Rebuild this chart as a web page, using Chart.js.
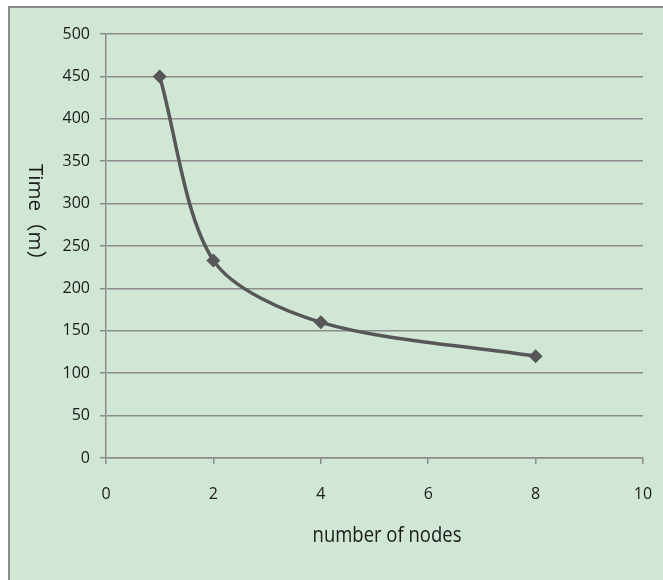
<!DOCTYPE html>
<html>
<head>
<meta charset="utf-8">
<script src="https://cdn.jsdelivr.net/npm/chart.js@4"></script>
<style>
html,body{margin:0;padding:0;background:#fff;}
#wrap{width:663px;height:580px;position:relative;}
</style>
</head>
<body>
<div id="wrap"><canvas id="c" width="663" height="580"></canvas></div>
<script>
const nodeCounts = [1, 2, 4, 8];
const timeMinutes = [450, 233, 160, 120];
const xTitle = 'number of nodes';
const yTitle = 'Time（m）';
const xRange = {min: 0, max: 10, step: 2};
const yRange = {min: 0, max: 500, step: 50};

const FONT = "'Open Sans', 'Noto Sans CJK SC', sans-serif";
const BG = '#cfe7d4';

const decor = {
  id: 'decor',
  beforeDraw(chart) {
    const ctx = chart.ctx;
    ctx.save();
    ctx.fillStyle = '#ffffff';
    ctx.fillRect(0, 0, chart.width, chart.height);
    ctx.fillStyle = BG;
    ctx.fillRect(10, 8, chart.width - 10, chart.height - 8);
    ctx.strokeStyle = '#8a8a8a';
    ctx.lineWidth = 2;
    ctx.beginPath();
    ctx.moveTo(9, chart.height);
    ctx.lineTo(9, 7);
    ctx.lineTo(chart.width, 7);
    ctx.stroke();
    ctx.restore();
  },
  afterDraw(chart) {
    const ctx = chart.ctx;
    ctx.save();
    ctx.fillStyle = '#1a1a1a';
    ctx.textBaseline = 'middle';
    // x title
    ctx.save();
    ctx.font = "21px " + FONT;
    ctx.textAlign = 'center';
    ctx.translate(387, 536);
    ctx.scale(0.88, 1);
    ctx.fillText(xTitle, 0, 0);
    ctx.restore();
    // y title, reading top to bottom
    ctx.save();
    ctx.font = "20.5px " + FONT;
    ctx.textAlign = 'left';
    ctx.translate(35, 164);
    ctx.rotate(Math.PI / 2);
    ctx.fillText(yTitle, 0, 0);
    ctx.restore();
    ctx.restore();
  }
};

new Chart(document.getElementById('c'), {
  type: 'line',
  data: {
    datasets: [{
      data: nodeCounts.map((x, i) => ({x: x, y: timeMinutes[i]})),
      borderColor: '#575757',
      backgroundColor: '#575757',
      borderWidth: 3.5,
      tension: 0.3,
      pointStyle: 'rectRot',
      pointRadius: 7,
      pointHoverRadius: 7,
      pointBorderWidth: 0,
      fill: false
    }]
  },
  options: {
    responsive: false,
    animation: false,
    devicePixelRatio: 1,
    layout: {padding: {left: 0, top: 34, right: 20, bottom: 0}},
    plugins: {legend: {display: false}, tooltip: {enabled: false}},
    scales: {
      x: {
        type: 'linear',
        min: xRange.min, max: xRange.max,
        ticks: {stepSize: xRange.step, color: '#1a1a1a', font: {family: FONT, size: 16}, padding: 21},
        grid: {drawOnChartArea: false, drawTicks: true, tickLength: 6, color: '#8c8c8c', lineWidth: 1.5},
        border: {color: '#8c8c8c', width: 1.5},
        afterFit(s) { s.height = 122; s.paddingRight = 0; s.paddingLeft = 0; }
      },
      y: {
        min: yRange.min, max: yRange.max,
        ticks: {stepSize: yRange.step, color: '#1a1a1a', font: {family: FONT, size: 16}, padding: 10},
        grid: {color: '#8c8c8c', lineWidth: 1.5, tickLength: 6, drawTicks: true},
        border: {color: '#8c8c8c', width: 1.5},
        afterFit(s) { s.width = 106; }
      }
    }
  },
  plugins: [decor]
});
</script>
</body>
</html>
